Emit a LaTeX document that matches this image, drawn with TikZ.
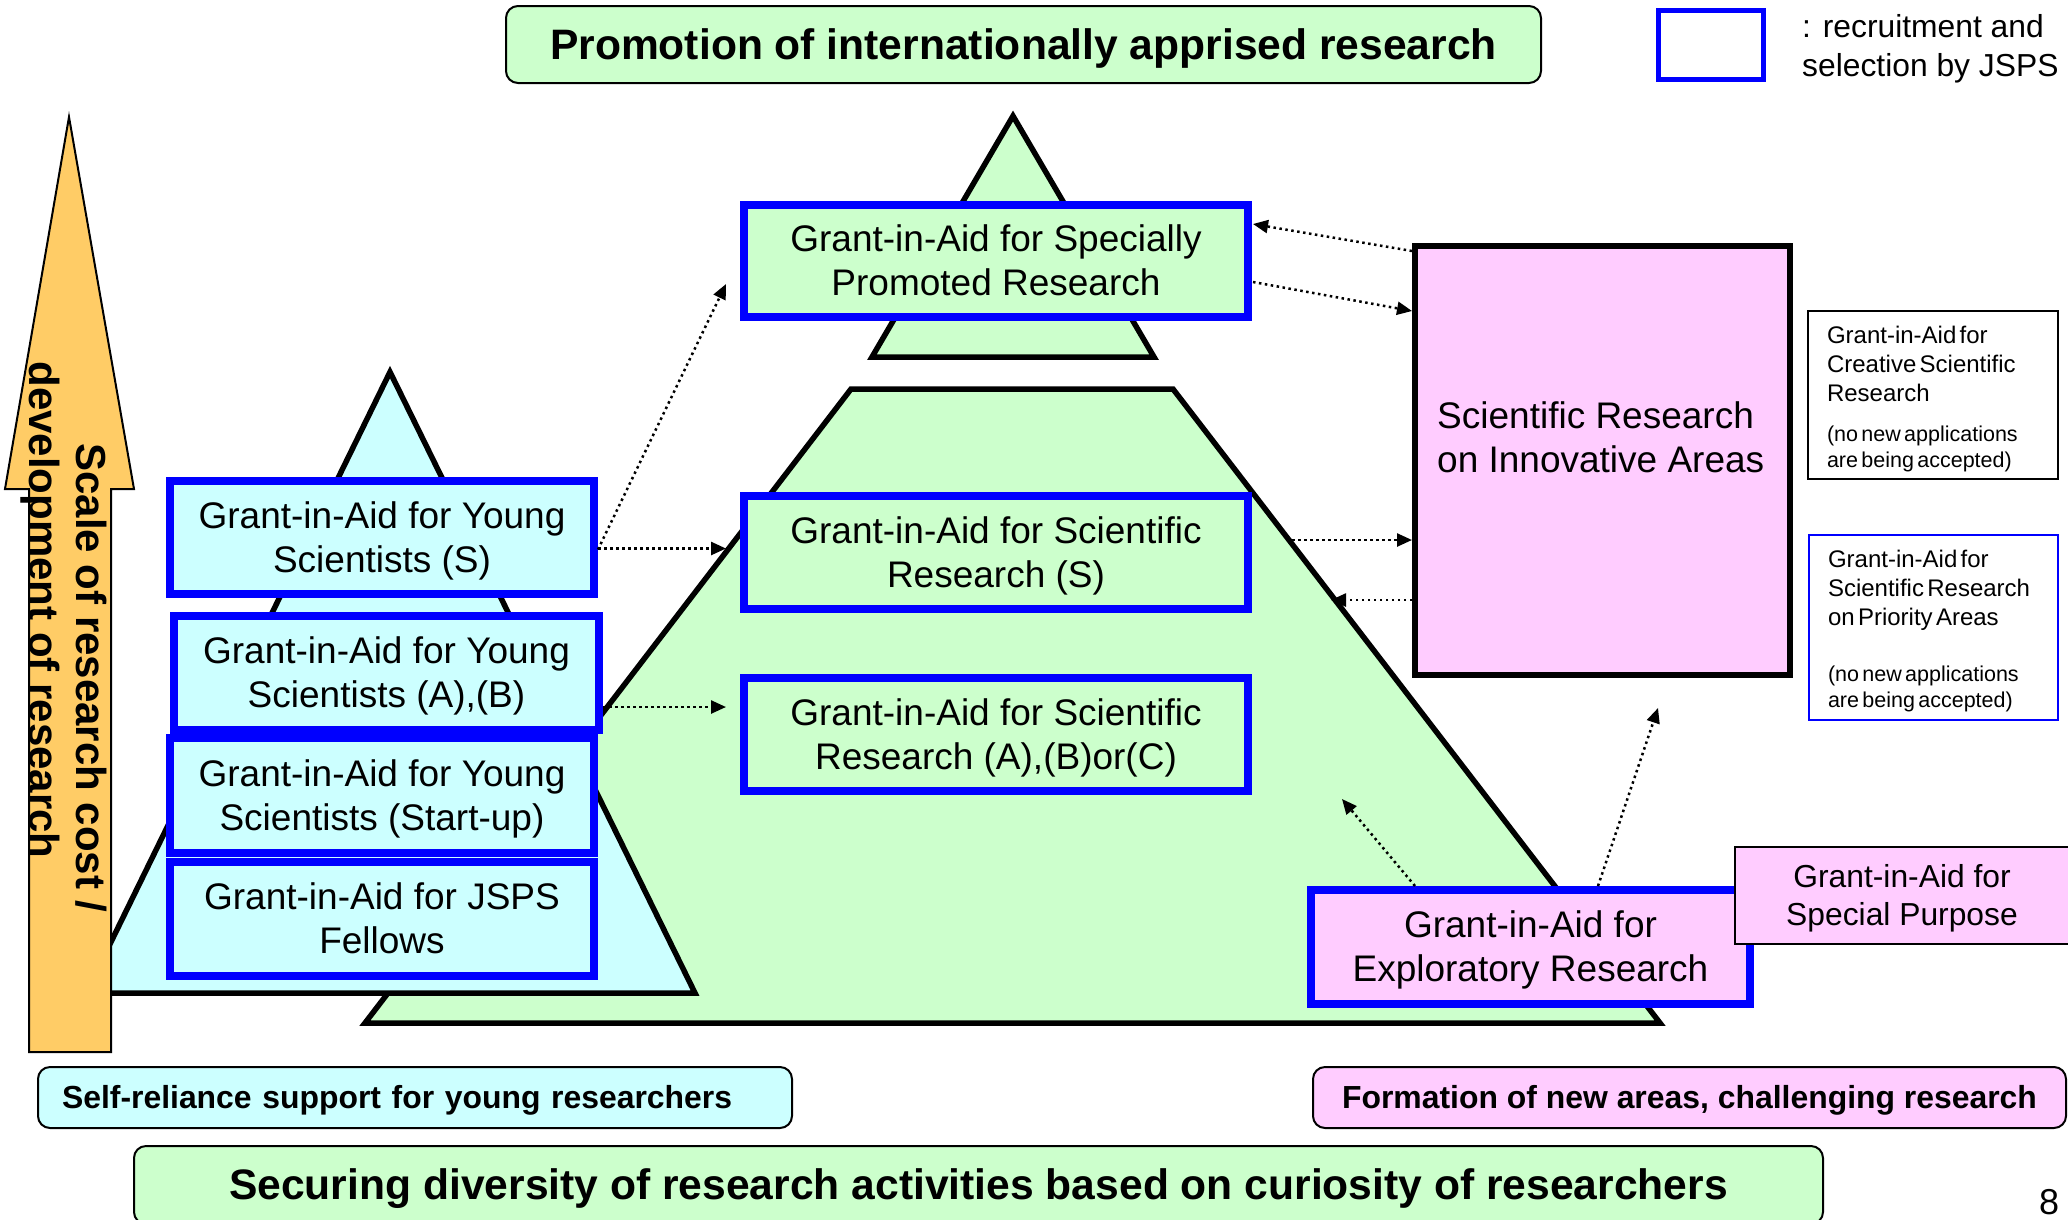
\documentclass[tikz,border=0pt]{standalone}
\usepackage{fontspec}
\setmainfont{Liberation Sans}
\usetikzlibrary{arrows.meta,calc}
\definecolor{cgreen}{HTML}{CCFFCC}
\definecolor{ccyan}{HTML}{CCFFFF}
\definecolor{cpink}{HTML}{FFCCFF}
\definecolor{corange}{HTML}{FFCC66}
\definecolor{cblue}{HTML}{0000FF}
\newcommand\fntMain{\fontsize{37}{44}\selectfont}
\newcommand\fntBig{\fontsize{42.6}{50}\selectfont\bfseries}
\newcommand\fntMid{\fontsize{31.8}{38.5}\selectfont}
\newcommand\fntMidB{\fontsize{31.9}{38}\selectfont\bfseries}
\newcommand\fntSmall{\fontsize{24}{28.7}\selectfont}
\newcommand\fntTiny{\fontsize{21.5}{26}\selectfont}
\newcommand\fntArrow{\fontsize{42}{50}\selectfont\bfseries}
\newcommand\sT{\rule{0pt}{0.905em}}
\newcommand\sB{\rule[-0.212em]{0pt}{0.212em}}
\begin{document}
\begin{tikzpicture}[x=1pt,y=-1pt,
  pptstrut/.style={execute at begin node={\sT}, execute at end node={\sB}},
  jspsbox/.style={draw=cblue, line width=8pt, rectangle, inner sep=0pt, align=center, font=\fntMain},
  blackbox/.style={draw=black, line width=6pt, rectangle, fill=cpink, inner sep=0pt},
  thinbox/.style={draw=black, line width=2pt, rectangle, inner sep=0pt},
  roundbox/.style={draw=black, line width=2pt, rectangle, rounded corners=12pt, inner sep=0pt, pptstrut},
  outline/.style={draw=black, line width=5.5pt, line join=miter},
  dotarrow/.style={line width=2.5pt, dash pattern=on 2.5pt off 3.5pt, -{Triangle[length=15pt,width=13pt]}}
]
\useasboundingbox (0,0) rectangle (2068,1219);
\fill[white] (0,0) rectangle (2068,1219);

% pyramid shapes
\draw[outline, fill=cgreen] (851,389) -- (1173,389) -- (1660,1023) -- (365,1023) -- cycle;
\draw[outline, fill=cgreen] (1013,116) -- (1154,357) -- (872,357) -- cycle;
\draw[outline, fill=ccyan] (390,372) -- (695,993) -- (86,993) -- cycle;

% orange arrow
\draw[line width=2pt, fill=corange, line join=miter] (29,1052) -- (29,489) -- (5,489) -- (69,117) -- (134,489) -- (111,489) -- (111,1052) -- cycle;
\node[rotate=-90, font=\fntArrow, inner sep=0pt] (lbl1) at (91,678) {Scale of research cost /};
\node[rotate=-90, font=\fntArrow, inner sep=0pt] (lbl2) at (40,610) {development of research};

% title
\node[roundbox, fill=cgreen, minimum width=1035pt, minimum height=77pt, font=\fntBig] (title) at (1023.5,44.5) {Promotion of internationally apprised research};

% legend
\node[draw=cblue, line width=5pt, fill=white, minimum width=105pt, minimum height=69pt, inner sep=0pt] (leg) at (1711,45) {};
\node[anchor=west, align=left, font=\fntMid, inner sep=0pt] (legt) at (1802,49) {: recruitment and\\selection by JSPS};

% young scientists boxes
\node[jspsbox, fill=ccyan, minimum width=424pt, minimum height=113pt] (ys) at (382,537.5) {\sT Grant-in-Aid for Young\\Scientists (S)\sB};
\node[jspsbox, fill=ccyan, minimum width=425pt, minimum height=114pt] (yab) at (386.5,673) {\sT Grant-in-Aid for Young\\Scientists (A),(B)\sB};
\node[jspsbox, fill=ccyan, minimum width=424pt, minimum height=115pt] (ysu) at (382,795.5) {\sT Grant-in-Aid for Young\\Scientists (Start-up)\sB};
\node[jspsbox, fill=ccyan, minimum width=424pt, minimum height=114pt] (jsps) at (382,919) {\sT Grant-in-Aid for JSPS\\Fellows\sB};

% scientific research boxes
\node[jspsbox, fill=cgreen, minimum width=504pt, minimum height=112pt] (spr) at (996,261) {\sT Grant-in-Aid for Specially\\Promoted Research\sB};
\node[jspsbox, fill=cgreen, minimum width=504pt, minimum height=113pt] (srs) at (996,552.5) {\sT Grant-in-Aid for Scientific\\Research (S)\sB};
\node[jspsbox, fill=cgreen, minimum width=504pt, minimum height=113pt] (srabc) at (996,734.5) {\sT Grant-in-Aid for Scientific\\Research (A),(B)or(C)\sB};

% innovative areas
\node[blackbox, minimum width=375pt, minimum height=429pt] (sria) at (1602.5,460.5) {};
\node[anchor=west, align=left, font=\fntMain, inner sep=0pt] (sriat) at (1437,437) {Scientific Research\\on Innovative Areas};

% exploratory and special purpose
\node[jspsbox, fill=cpink, minimum width=439pt, minimum height=114pt] (expl) at (1530.5,947) {\sT Grant-in-Aid for\\Exploratory Research\sB};
\node[thinbox, fill=cpink, minimum width=334pt, minimum height=97pt, align=center, font=\fntMid] (spp) at (1902,895.5) {\sT Grant-in-Aid for\\Special Purpose\sB};

% discontinued programmes
\node[thinbox, fill=white, minimum width=250pt, minimum height=168pt, text width=212pt, inner xsep=19pt, align=left] (cre) at (1933,395) {\fntSmall\rule{0pt}{25.5pt}Grant-in-Aid for\\Creative Scientific\\Research\par\vspace{14pt}\fntTiny (no new applications\\are being accepted)\par};
\node[draw=cblue, line width=2pt, rectangle, inner sep=0pt, fill=white, minimum width=249pt, minimum height=185pt, text width=211pt, inner xsep=19pt, align=left] (pri) at (1933.5,627.5) {\fntSmall\rule{0pt}{24.5pt}Grant-in-Aid for\\Scientific Research\\on Priority Areas\par\vspace{30pt}\fntTiny (no new applications\\are being accepted)\par};

% bottom boxes
\node[roundbox, fill=ccyan, minimum width=754pt, minimum height=61pt, text width=706pt, inner xsep=24pt, align=left, font=\fntMidB] (self) at (415,1097.5) {Self-reliance support for young researchers};
\node[roundbox, fill=cpink, minimum width=753pt, minimum height=61pt, font=\fntMidB] (form) at (1689.5,1097.5) {Formation of new areas, challenging research};
\node[roundbox, fill=cgreen, minimum width=1689pt, minimum height=78pt, font=\fntBig] (secure) at (978.5,1185) {Securing diversity of research activities based on curiosity of researchers};

\node[anchor=base, font=\fontsize{36}{40}\selectfont, inner sep=0pt] (pg) at (2049,1214) {8};

% connectors
\coordinate (fst) at (1292,540);
\coordinate (gend) at (1331,600);
\coordinate (hend) at (1342,799);
\draw[dotarrow] ($(ys.east)+(0,12)$) -- ($(spr.west)+(-14,23)$);
\draw[dotarrow] ($(ys.east)+(0,11)$) -- ($(srs.west)+(-14,-4)$);
\draw[dotarrow] ($(yab.east)+(0,34)$) -- ($(srabc.west)+(-14,-27.5)$);
\draw[dotarrow] ($(sria.west)+(0,-209.5)$) -- ($(spr.east)+(1,-37)$);
\draw[dotarrow] ($(spr.east)+(1,21)$) -- ($(sria.west)+(0,-149.5)$);
\draw[dotarrow] (fst) -- ($(sria.west)+(0,79.5)$);
\draw[dotarrow] ($(sria.west)+(0,139.5)$) -- (gend);
\draw[dotarrow] ($(expl.north west)+(108,0)$) -- (hend);
\draw[dotarrow] ($(expl.north west)+(291,0)$) -- ($(sria.south)+(55.5,30)$);
\end{tikzpicture}
\end{document}
